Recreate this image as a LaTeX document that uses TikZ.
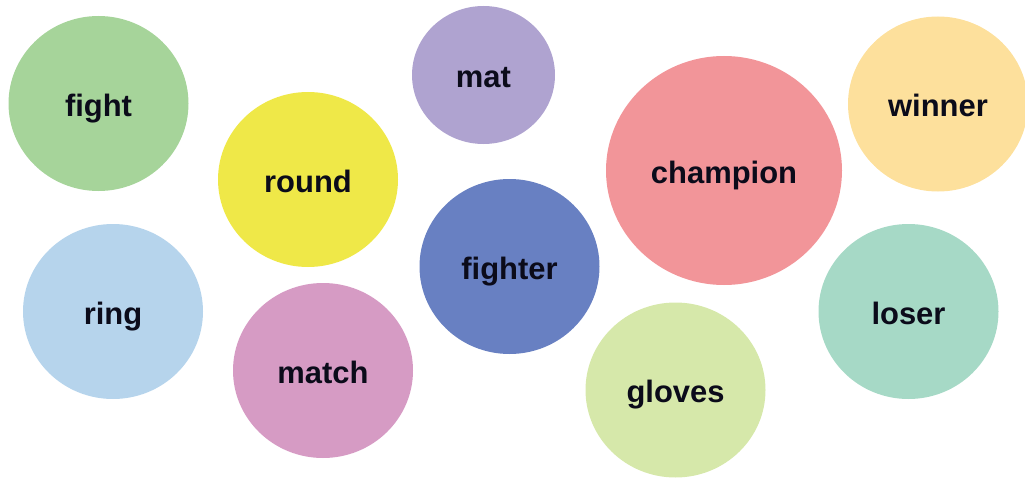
\documentclass[tikz,border=0pt]{standalone}
\usepackage{fontspec}
\setmainfont{Liberation Sans}
\usetikzlibrary{shapes.geometric}
\definecolor{cfight}{HTML}{A6D49A}
\definecolor{cmat}{HTML}{AFA3D0}
\definecolor{cchamp}{HTML}{F29599}
\definecolor{cwinner}{HTML}{FDE09C}
\definecolor{cgloves}{HTML}{D6E8AA}
\definecolor{cmatch}{HTML}{D69BC4}
\definecolor{cround}{HTML}{EFE848}
\definecolor{cring}{HTML}{B6D4EC}
\definecolor{cfighter}{HTML}{6880C2}
\definecolor{closer}{HTML}{A6D9C6}
\definecolor{ctext}{HTML}{0B0B1A}
\tikzset{
  bubble/.style={ellipse, inner sep=0pt, minimum width=135pt, minimum height=131.25pt,
    text=ctext, font=\fontsize{23.2}{28}\bfseries\selectfont,
    text height=19pt, text depth=0pt},
  small/.style={minimum width=107.25pt, minimum height=103.5pt},
  big/.style={minimum width=177pt, minimum height=171.75pt}
}
\begin{document}
\begin{tikzpicture}[x=0.75pt, y=-0.75pt]
\useasboundingbox (0,0) rectangle (1025,478);
\node[bubble, fill=cfight] (fight) at (98.5,103.5) {fight};
\node[bubble, small, fill=cmat] (mat) at (483.5,75) {mat};
\node[bubble, big, fill=cchamp] (champion) at (724,170.5) {champion};
\node[bubble, fill=cwinner] (winner) at (938,104) {winner};
\node[bubble, fill=cround] (round) at (308,179.5) {round};
\node[bubble, fill=cring] (ring) at (113,311.5) {ring};
\node[bubble, fill=cfighter] (fighter) at (509.5,266.5) {fighter};
\node[bubble, fill=cmatch] (match) at (323,370.5) {match};
\node[bubble, fill=cgloves] (gloves) at (675.5,390) {gloves};
\node[bubble, fill=closer] (loser) at (908.5,311.5) {loser};
\end{tikzpicture}
\end{document}
